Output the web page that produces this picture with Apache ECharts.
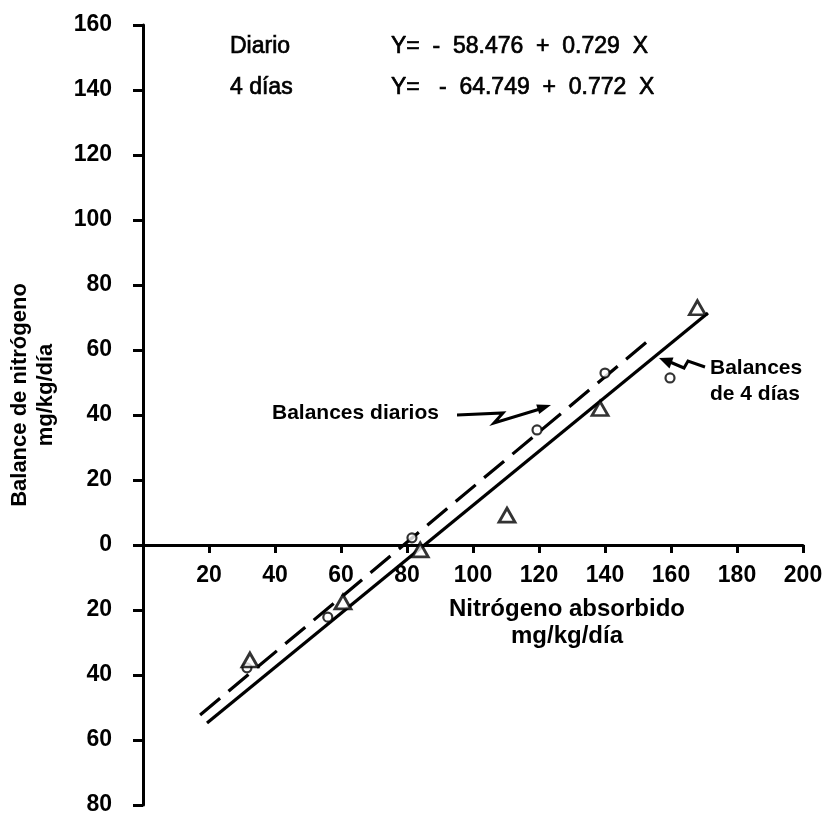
<!DOCTYPE html>
<html>
<head>
<meta charset="utf-8">
<script src="https://cdn.jsdelivr.net/npm/echarts@6/dist/echarts.min.js"></script>
<style>html,body{margin:0;padding:0;background:#fff}#c{width:830px;height:817px}</style>
</head>
<body>
<div id="c"></div>
<script>
// Data
const diarioPoints = [[31.5,-37.8],[56,-22.2],[81.5,2.2],[119.4,35.4],[140,52.9],[159.7,51.4]];
const cuatroDiasPoints = [[32.4,-35.4],[60.6,-17.5],[84,-1.5],[110.3,9.2],[138.5,42],[168,73]];
const diarioLine = [[17.3,-52.3],[152.7,62.5]];
const cuatroDiasLine = [[19.4,-54.8],[171.2,71.4]];
const xTicks = [20,40,60,80,100,120,140,160,180,200];
const yTicks = [-80,-60,-40,-20,0,20,40,60,80,100,120,140,160];

const FONT = 'Liberation Sans';
const GRID = {left: 143, right: 27, top: 25, bottom: 12};
const Y_MIN = -80, Y_MAX = 160;
// pixel distance from grid bottom up to the value 0 of the y axis
const zeroOffset = (817 - GRID.top - GRID.bottom) * (0 - Y_MIN) / (Y_MAX - Y_MIN);

const chart = echarts.init(document.getElementById('c'));
const txt = (x, y, s, opts) => Object.assign({
  type: 'text', x: x, y: y,
  style: Object.assign({text: s, fill: '#000', font: 'bold 21px ' + FONT, textVerticalAlign: 'middle'}, opts || {})
});
const eq = {font: '23px ' + FONT, stroke: '#000', lineWidth: 0.7};
chart.setOption({
  animation: false,
  backgroundColor: '#fff',
  grid: Object.assign({containLabel: false, outerBoundsMode: 'none'}, GRID),
  xAxis: {
    type: 'value', min: 0, max: 200, interval: 20,
    position: 'bottom', offset: -zeroOffset,
    axisLine: {onZero: false, lineStyle: {color: '#000', width: 3}},
    axisTick: {show: true, inside: false, length: 8, lineStyle: {color: '#000', width: 3}},
    axisLabel: {color: '#000', fontFamily: FONT, fontWeight: 'bold', fontSize: 23, margin: 19,
      formatter: v => xTicks.indexOf(v) >= 0 ? String(v) : ''},
    splitLine: {show: false}
  },
  yAxis: {
    type: 'value', min: Y_MIN, max: Y_MAX, interval: 20,
    axisLine: {onZero: false, lineStyle: {color: '#000', width: 3}},
    axisTick: {show: true, inside: false, length: 10, lineStyle: {color: '#000', width: 3}},
    axisLabel: {color: '#000', fontFamily: FONT, fontWeight: 'bold', fontSize: 23, margin: 31,
      formatter: v => yTicks.indexOf(v) >= 0 ? String(Math.abs(v)) : ''},
    splitLine: {show: false}
  },
  series: [
    {type: 'line', data: cuatroDiasLine, symbol: 'none', lineStyle: {color: '#000', width: 3.2}, z: 2},
    {type: 'line', data: diarioLine, symbol: 'none', lineStyle: {color: '#000', width: 3.2, type: [26, 11]}, z: 2},
    {type: 'scatter', data: diarioPoints, symbol: 'circle', symbolSize: 9,
      itemStyle: {color: '#fff', borderColor: '#000', borderWidth: 2.2}, z: 3},
    {type: 'scatter', data: cuatroDiasPoints, symbol: 'triangle', symbolSize: [16, 14],
      itemStyle: {color: '#fff', borderColor: '#000', borderWidth: 2.8}, z: 3}
  ],
  graphic: [
    txt(230, 47, 'Diario', eq),
    txt(230, 88, '4 días', eq),
    txt(391, 47, 'Y=  -  58.476  +  0.729  X', eq),
    txt(391, 88, 'Y=   -  64.749  +  0.772  X', eq),
    txt(272, 413, 'Balances diarios', {font: 'bold 21px ' + FONT}),
    txt(710, 368, 'Balances', {font: 'bold 21px ' + FONT}),
    txt(710, 394, 'de 4 días', {font: 'bold 21px ' + FONT}),
    txt(567, 609, 'Nitrógeno absorbido', {font: 'bold 24px ' + FONT, textAlign: 'center'}),
    txt(567, 636, 'mg/kg/día', {font: 'bold 24px ' + FONT, textAlign: 'center'}),
    {type: 'text', x: 20, y: 395, rotation: Math.PI / 2,
      style: {text: 'Balance de nitrógeno', fill: '#000', font: 'bold 22px ' + FONT, textAlign: 'center', textVerticalAlign: 'middle'}},
    {type: 'text', x: 46, y: 395, rotation: Math.PI / 2,
      style: {text: 'mg/kg/día', fill: '#000', font: 'bold 22px ' + FONT, textAlign: 'center', textVerticalAlign: 'middle'}},
    {type: 'polyline', shape: {points: [[457,415],[503,413],[494,423],[540,409]]},
      style: {stroke: '#000', lineWidth: 3, fill: null}},
    {type: 'polygon', shape: {points: [[551,405],[539.2,414],[536.2,404.4]]}, style: {fill: '#000'}},
    {type: 'polyline', shape: {points: [[705,367],[688,361],[684,368],[670,362]]},
      style: {stroke: '#000', lineWidth: 3, fill: null}},
    {type: 'polygon', shape: {points: [[659,358],[673.5,357.5],[669.5,368.5]]}, style: {fill: '#000'}}
  ]
});
</script>
</body>
</html>
